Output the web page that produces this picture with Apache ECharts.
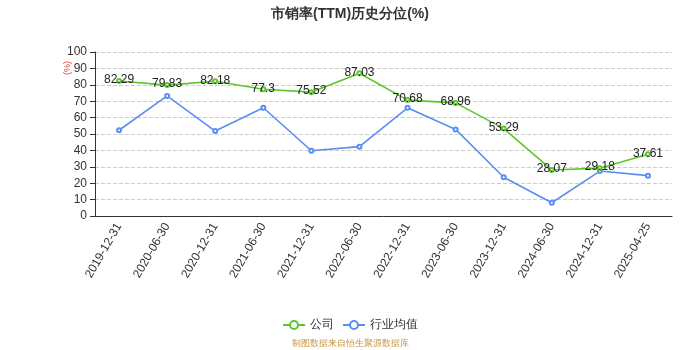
<!DOCTYPE html>
<html>
<head>
<meta charset="utf-8">
<script src="https://cdn.jsdelivr.net/npm/echarts@6/dist/echarts.min.js"></script>
<style>
  html, body { margin: 0; padding: 0; background: #fff; }
  #chart { width: 700px; height: 350px; }
</style>
</head>
<body>
<div id="chart"></div>
<script>
// Report dates on the category axis
const dates = ['2019-12-31', '2020-06-30', '2020-12-31', '2021-06-30', '2021-12-31', '2022-06-30',
               '2022-12-31', '2023-06-30', '2023-12-31', '2024-06-30', '2024-12-31', '2025-04-25'];
// Company P/S (TTM) historical percentile
const companyValues = [82.29, 79.83, 82.18, 77.3, 75.52, 87.03, 70.68, 68.96, 53.29, 28.07, 29.18, 37.61];
// Industry average percentile
const industryValues = [52.3, 73.2, 51.8, 66.0, 39.8, 42.3, 66.0, 52.8, 23.6, 8.1, 27.4, 24.6];
const seriesNames = ['公司', '行业均值'];

const chart = echarts.init(document.getElementById('chart'));
chart.setOption({
  animation: false,
  title: {
    text: '市销率(TTM)历史分位(%)',
    left: 'center',
    top: 2,
    textStyle: { fontSize: 14, fontWeight: 'bold', color: '#333' }
  },
  legend: {
    bottom: 14,
    left: 'center',
    itemWidth: 22,
    itemHeight: 10,
    itemGap: 8,
    textStyle: { fontSize: 12, color: '#333' },
    data: seriesNames
  },
  graphic: [
    {
      type: 'text',
      left: 'center',
      bottom: 2,
      style: { text: '制图数据来自恒生聚源数据库', fill: '#c8963e', fontSize: 9 }
    },
    {
      // unit label beside the value axis, reading bottom to top
      type: 'text',
      x: 63,
      y: 75,
      rotation: Math.PI / 2,
      style: { text: '(%)', fill: '#e03030', fontSize: 9 }
    }
  ],
  grid: { left: 95, right: 28, top: 52, bottom: 134 },
  xAxis: {
    type: 'category',
    data: dates,
    boundaryGap: true,
    axisLine: { lineStyle: { color: '#333' } },
    axisLabel: { rotate: 60, fontSize: 12, color: '#333', interval: 0 }
  },
  yAxis: {
    type: 'value',
    min: 0,
    max: 100,
    interval: 10,
    axisLine: { show: true, lineStyle: { color: '#333' } },
    axisTick: { show: true },
    axisLabel: { fontSize: 12, color: '#333' },
    splitLine: { lineStyle: { type: 'dashed', color: '#ccc' } }
  },
  series: [
    {
      name: seriesNames[0],
      type: 'line',
      data: companyValues,
      symbol: 'emptyCircle',
      symbolSize: 4,
      lineStyle: { width: 1.6, color: '#5cc72b' },
      itemStyle: { color: '#5cc72b' },
      label: { show: true, position: 'top', distance: -8, fontSize: 12, color: '#222' },
      z: 3
    },
    {
      name: seriesNames[1],
      type: 'line',
      data: industryValues,
      symbol: 'emptyCircle',
      symbolSize: 4,
      lineStyle: { width: 1.6, color: '#5b8ef0' },
      itemStyle: { color: '#5b8ef0' },
      z: 2
    }
  ]
});
</script>
</body>
</html>
